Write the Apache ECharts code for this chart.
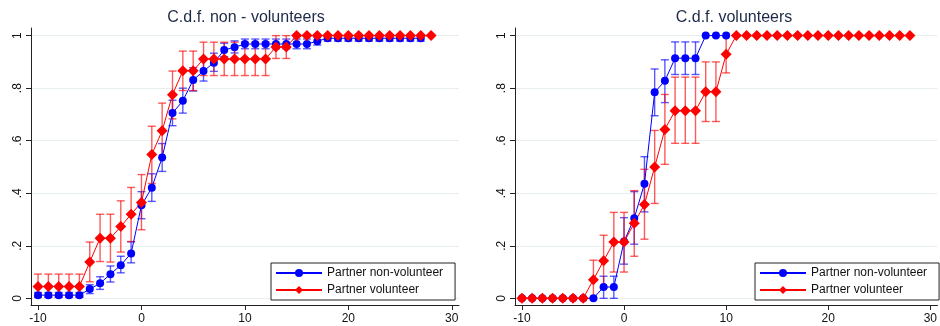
<!DOCTYPE html>
<html>
<head>
<meta charset="utf-8">
<script src="https://cdn.jsdelivr.net/npm/echarts@6/dist/echarts.min.js"></script>
<style>
  html, body { margin: 0; padding: 0; background: #fff; }
  #chart { width: 940px; height: 326px; }
</style>
</head>
<body>
<div id="chart"></div>
<script>
// tick labels
const xTicks = [-10, 0, 10, 20, 30];
const yTicks = [0, 0.2, 0.4, 0.6, 0.8, 1];

// left panel: C.d.f. non - volunteers
const leftBlueX = [-10, -9, -8, -7, -6, -5, -4, -3, -2, -1, 0, 1, 2, 3, 4, 5, 6, 7, 8, 9,
  10, 11, 12, 13, 14, 15, 16, 17, 18, 19, 20, 21, 22, 23, 24, 25, 26, 27];
const leftBlueY = [0.012, 0.012, 0.012, 0.012, 0.012, 0.035, 0.057, 0.092, 0.126, 0.171,
  0.354, 0.421, 0.536, 0.705, 0.752, 0.831, 0.865, 0.897, 0.945, 0.956,
  0.968, 0.968, 0.968, 0.968, 0.968, 0.968, 0.968, 0.979,
  0.990, 0.990, 0.990, 0.990, 0.990, 0.990, 0.990, 0.990, 0.990, 0.990];
const leftBlueLo = [0.004, 0.004, 0.004, 0.004, 0.004, 0.018, 0.034, 0.062, 0.097, 0.135,
  0.303, 0.369, 0.483, 0.657, 0.705, 0.789, 0.827, 0.864, 0.920, 0.934,
  0.950, 0.950, 0.950, 0.950, 0.950, 0.950, 0.950, 0.964,
  0.979, 0.979, 0.979, 0.979, 0.979, 0.979, 0.979, 0.979, 0.979, 0.979];
const leftBlueHi = [0.022, 0.022, 0.022, 0.022, 0.022, 0.052, 0.082, 0.123, 0.160, 0.215,
  0.406, 0.474, 0.589, 0.754, 0.800, 0.878, 0.910, 0.933, 0.971, 0.980,
  0.987, 0.987, 0.987, 0.987, 0.987, 0.987, 0.987, 0.994,
  1.0, 1.0, 1.0, 1.0, 1.0, 1.0, 1.0, 1.0, 1.0, 1.0];

const leftRedX = [-10, -9, -8, -7, -6, -5, -4, -3, -2, -1, 0, 1, 2, 3, 4, 5, 6, 7, 8, 9,
  10, 11, 12, 13, 14, 15, 16, 17, 18, 19, 20, 21, 22, 23, 24, 25, 26, 27, 28];
const leftRedY = [0.045, 0.045, 0.045, 0.045, 0.045, 0.138, 0.229, 0.229, 0.273, 0.320,
  0.365, 0.547, 0.638, 0.775, 0.866, 0.866, 0.911, 0.911, 0.911, 0.911,
  0.911, 0.911, 0.911, 0.957, 0.957, 1, 1, 1, 1, 1, 1, 1, 1, 1, 1, 1, 1, 1, 1];
const leftRedLo = [0.005, 0.005, 0.005, 0.005, 0.005, 0.063, 0.140, 0.138, 0.176, 0.216,
  0.261, 0.437, 0.535, 0.683, 0.791, 0.791, 0.848, 0.848, 0.848, 0.848,
  0.848, 0.848, 0.848, 0.913, 0.913];
const leftRedHi = [0.092, 0.092, 0.092, 0.092, 0.092, 0.214, 0.320, 0.320, 0.371, 0.422,
  0.471, 0.655, 0.743, 0.865, 0.941, 0.941, 0.975, 0.975, 0.975, 0.975,
  0.975, 0.975, 0.975, 1.0, 1.0];

// right panel: C.d.f. volunteers
const rightBlueX = [-10, -9, -8, -7, -6, -5, -4, -3, -2, -1, 0, 1, 2, 3, 4, 5, 6, 7, 8, 9, 10];
const rightBlueY = [0, 0, 0, 0, 0, 0, 0, 0, 0.043, 0.043, 0.216, 0.305, 0.436, 0.784, 0.828,
  0.914, 0.914, 0.914, 1, 1, 1];
const rightBlueLo = [null, null, null, null, null, null, null, null, 0.0, 0.0, 0.130, 0.206,
  0.329, 0.695, 0.745, 0.852, 0.852, 0.852];
const rightBlueHi = [null, null, null, null, null, null, null, null, 0.084, 0.084, 0.307, 0.406,
  0.539, 0.873, 0.908, 0.976, 0.976, 0.976];

const rightRedX = leftRedX;
const rightRedY = [0, 0, 0, 0, 0, 0, 0, 0.071, 0.143, 0.214, 0.214, 0.286, 0.357, 0.500, 0.643,
  0.714, 0.714, 0.714, 0.786, 0.786, 0.929,
  1, 1, 1, 1, 1, 1, 1, 1, 1, 1, 1, 1, 1, 1, 1, 1, 1, 1];
const rightRedLo = [null, null, null, null, null, null, null, 0.0, 0.040, 0.100, 0.100, 0.160,
  0.225, 0.361, 0.510, 0.590, 0.590, 0.590, 0.673, 0.673, 0.858];
const rightRedHi = [null, null, null, null, null, null, null, 0.145, 0.240, 0.327, 0.327, 0.410,
  0.491, 0.639, 0.776, 0.842, 0.842, 0.842, 0.900, 0.900, 1.0];

const FONT = 'Liberation Sans, Arial, sans-serif';
const BLUE = '#0000ff';
const RED = '#ff0000';

function pts(xs, ys) {
  return xs.map((x, i) => [x, ys[i]]);
}
function bars(xs, lo, hi) {
  const out = [];
  lo.forEach((l, i) => {
    if (l !== null && hi[i] !== null) out.push([xs[i], l, hi[i]]);
  });
  return out;
}

function errRenderer(color) {
  return function (params, api) {
    const x = api.value(0);
    const top = api.coord([x, api.value(2)]);
    const bot = api.coord([x, api.value(1)]);
    const hw = 4;
    const st = { stroke: color, lineWidth: 1.4 };
    return {
      type: 'group',
      children: [
        { type: 'line', shape: { x1: top[0], y1: top[1], x2: bot[0], y2: bot[1] }, style: st },
        { type: 'line', shape: { x1: top[0] - hw, y1: top[1], x2: top[0] + hw, y2: top[1] }, style: st },
        { type: 'line', shape: { x1: bot[0] - hw, y1: bot[1], x2: bot[0] + hw, y2: bot[1] }, style: st }
      ]
    };
  };
}

// y labels the Stata way: 0, .2, .4 ... 1
function yLabel(v) {
  const n = Math.round(Number(v) * 10) / 10;
  if (n === 0) return '0';
  if (n === 1) return '1';
  return n.toFixed(1).replace(/^0/, '');
}

function xAxisFor(idx) {
  return {
    type: 'value', gridIndex: idx, min: -10.68, max: 30.7,
    axisLine: { onZero: false, lineStyle: { color: '#222', width: 1 } },
    axisTick: { length: 5, customValues: xTicks, lineStyle: { color: '#222' } },
    axisLabel: { customValues: xTicks, margin: 8, fontSize: 12, color: '#111', fontFamily: FONT },
    splitLine: { show: false }
  };
}
function yAxisFor(idx) {
  return {
    type: 'value', gridIndex: idx, min: -0.0255, max: 1.029,
    axisLine: { show: true, onZero: false, lineStyle: { color: '#222', width: 1 } },
    axisTick: { show: true, length: 5, customValues: yTicks, lineStyle: { color: '#222' } },
    axisLabel: {
      customValues: yTicks, rotate: 90, margin: 7, fontSize: 12, color: '#111', fontFamily: FONT,
      formatter: yLabel
    },
    splitLine: { show: true, lineStyle: { color: '#e6eeee', width: 1 } }
  };
}

function errSeries(idx, name, data, color) {
  return {
    type: 'custom', name: name, xAxisIndex: idx, yAxisIndex: idx,
    renderItem: errRenderer(color), data: data, encode: { x: 0, y: [1, 2] }, silent: true
  };
}
function blueLine(idx, data) {
  return {
    type: 'line', name: 'Partner non-volunteer', xAxisIndex: idx, yAxisIndex: idx, data: data,
    symbol: 'circle', symbolSize: 8, itemStyle: { color: BLUE },
    lineStyle: { color: BLUE, width: 1 }
  };
}
function redLine(idx, data) {
  return {
    type: 'line', name: 'Partner volunteer', xAxisIndex: idx, yAxisIndex: idx, data: data,
    symbol: 'diamond', symbolSize: 11, itemStyle: { color: RED },
    lineStyle: { color: RED, width: 1 }
  };
}
function legendAt(left) {
  return {
    left: left, top: 263, orient: 'vertical',
    data: ['Partner non-volunteer', 'Partner volunteer'],
    itemWidth: 46, itemHeight: 10, itemGap: 5,
    padding: [4, 12, 4, 4],
    borderColor: '#222', borderWidth: 1, borderRadius: 0, backgroundColor: '#fff',
    textStyle: { fontSize: 12, color: '#111', fontFamily: FONT },
    selectedMode: false
  };
}

const chart = echarts.init(document.getElementById('chart'));
chart.setOption({
  animation: false,
  backgroundColor: '#fff',
  title: [
    { text: 'C.d.f. non - volunteers', left: 241, top: 5, textAlign: 'center',
      textStyle: { fontSize: 16, fontWeight: 'normal', color: '#1c2a48', fontFamily: FONT } },
    { text: 'C.d.f. volunteers', left: 729, top: 5, textAlign: 'center',
      textStyle: { fontSize: 16, fontWeight: 'normal', color: '#1c2a48', fontFamily: FONT } }
  ],
  grid: [
    { left: 31, top: 28, width: 428, bottom: 21 },
    { left: 515, top: 28, width: 428, bottom: 21 }
  ],
  xAxis: [xAxisFor(0), xAxisFor(1)],
  yAxis: [yAxisFor(0), yAxisFor(1)],
  legend: [legendAt(271), legendAt(755)],
  series: [
    errSeries(0, 'eb1', bars(leftBlueX, leftBlueLo, leftBlueHi), 'rgba(0,0,255,0.65)'),
    errSeries(0, 'eb2', bars(leftRedX, leftRedLo, leftRedHi), 'rgba(255,0,0,0.65)'),
    blueLine(0, pts(leftBlueX, leftBlueY)),
    redLine(0, pts(leftRedX, leftRedY)),
    errSeries(1, 'eb3', bars(rightBlueX, rightBlueLo, rightBlueHi), 'rgba(0,0,255,0.65)'),
    errSeries(1, 'eb4', bars(rightRedX, rightRedLo, rightRedHi), 'rgba(255,0,0,0.65)'),
    blueLine(1, pts(rightBlueX, rightBlueY)),
    redLine(1, pts(rightRedX, rightRedY))
  ]
});
</script>
</body>
</html>
